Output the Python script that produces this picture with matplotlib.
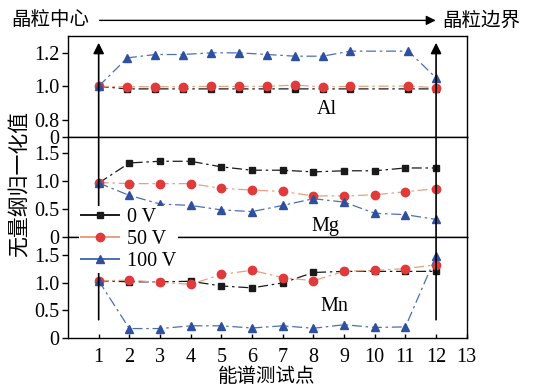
import matplotlib
matplotlib.use('Agg')
import matplotlib.pyplot as plt
from matplotlib.patches import ConnectionPatch, FancyArrowPatch

plt.rcParams['font.family'] = ['Liberation Serif', 'Noto Sans CJK SC']

# ==========================================
# data
# ==========================================
labels = ['0 V', '50 V', '100 V']

# Al panel: points are not on integer positions in the original
x_al = [1, 1.93, 2.85, 3.75, 4.66, 5.57, 6.5, 7.4, 8.3, 9.2, 11.1, 12]
al_0 = [1.0, 0.985, 0.985, 0.985, 0.985, 0.985, 0.985, 0.985, 0.985, 0.985, 0.985, 0.985]
al_50 = [1.0, 0.998, 0.998, 0.998, 1.0, 1.0, 1.0, 1.008, 0.997, 1.0, 1.002, 0.992]
al_100 = [1.0, 1.17, 1.19, 1.19, 1.20, 1.20, 1.19, 1.18, 1.18, 1.21, 1.21, 1.05]

x_pts = [1, 2, 3, 4, 5, 6, 7, 8, 9, 10, 11, 12]
mg_0 = [0.97, 1.33, 1.36, 1.36, 1.26, 1.20, 1.20, 1.17, 1.19, 1.19, 1.24, 1.24]
mg_50 = [0.98, 0.96, 0.96, 0.96, 0.875, 0.845, 0.82, 0.74, 0.74, 0.76, 0.815, 0.87]
mg_100 = [0.97, 0.75, 0.595, 0.57, 0.49, 0.46, 0.57, 0.69, 0.63, 0.43, 0.405, 0.32]

mn_0 = [1.04, 1.02, 1.02, 1.03, 0.945, 0.91, 1.0, 1.19, 1.21, 1.21, 1.21, 1.21]
mn_50 = [1.04, 1.05, 1.01, 0.975, 1.155, 1.23, 1.095, 1.04, 1.21, 1.23, 1.26, 1.33]
mn_100 = [1.04, 0.17, 0.17, 0.22, 0.22, 0.18, 0.22, 0.175, 0.24, 0.19, 0.20, 1.49]

xticks = list(range(1, 14))

styles = [
    dict(color='#1a1a1a', marker='s', markersize=5, mfc='#1a1a1a', mec='#1a1a1a'),
    dict(color='#e8a080', marker='o', markersize=6, mfc='#e03a3a', mec='#e03a3a'),
    dict(color='#4a6fb5', marker='^', markersize=6, mfc='#2f4f9f', mec='#2f4f9f'),
]
dash = (0, (8, 3, 2, 3))

fig = plt.figure(figsize=(5.44, 3.92), dpi=100)
gs = fig.add_gridspec(3, 1, left=0.125, right=0.858, top=0.908, bottom=0.138, hspace=0)
ax_al = fig.add_subplot(gs[0])
ax_mg = fig.add_subplot(gs[1], sharex=ax_al)
ax_mn = fig.add_subplot(gs[2], sharex=ax_al)

panels = [
    (ax_al, x_al, [al_0, al_50, al_100], 'Al'),
    (ax_mg, x_pts, [mg_0, mg_50, mg_100], 'Mg'),
    (ax_mn, x_pts, [mn_0, mn_50, mn_100], 'Mn'),
]

handles = []
for ax, xs, series, name in panels:
    for ys, st, lab in zip(series, styles, labels):
        ln, = ax.plot(xs, ys, linestyle=dash, linewidth=0.9, label=lab, **st)
        if ax is ax_mg:
            handles.append(ln)
    for sp in ax.spines.values():
        sp.set_linewidth(1.0)
    ax.tick_params(axis='y', direction='out', length=4, width=1, labelsize=14.5, pad=2)
    ax.tick_params(axis='x', direction='in', length=3, width=1, labelsize=14.5, pad=7)

ax_al.set_ylim(0.7, 1.3)
ax_al.set_yticks([0.7, 0.8, 1.0, 1.2])
ax_al.set_yticklabels(['0', '0.8', '1.0', '1.2'])
ax_mg.set_ylim(0, 1.8)
ax_mn.set_ylim(0, 1.83)
for ax in (ax_mg, ax_mn):
    ax.set_yticks([0, 0.5, 1.0, 1.5])
    ax.set_yticklabels(['0', '0.5', '1.0', '1.5'])

ax_mn.set_xlim(0, 13)
ax_mn.set_xticks(xticks)
for ax in (ax_al, ax_mg):
    ax.tick_params(axis='x', bottom=False, labelbottom=False)

ax_al.text(8.45, 0.86, 'Al', fontsize=14.5, ha='center', va='center')
ax_mg.text(8.4, 0.2, 'Mg', fontsize=14.5, ha='center', va='center')
ax_mn.text(8.7, 0.58, 'Mn', fontsize=14.5, ha='center', va='center')

fig.text(0.49, 0.04, '能谱测试点', fontsize=14, ha='center', va='center')
fig.text(0.038, 0.53, '无量纲归一化值', rotation=90, fontsize=15, ha='center', va='center')

# vertical arrows at first and last test points
for xv in (1, 12):
    con = ConnectionPatch(xyA=(xv, 0.33), coordsA='data', axesA=ax_mn,
                          xyB=(xv, 1.26), coordsB='data', axesB=ax_al,
                          arrowstyle='-|>', mutation_scale=16, lw=1.2, color='black')
    fig.add_artist(con)

# top direction arrow
fig.text(0.092, 0.948, '晶粒中心', fontsize=14, ha='center', va='center')
fig.text(0.885, 0.948, '晶粒边界', fontsize=14, ha='center', va='center')
fig.add_artist(FancyArrowPatch(
    (0.178, 0.948), (0.806, 0.948), transform=fig.transFigure,
    arrowstyle='-|>', mutation_scale=14, lw=1.0, color='black'))

leg = fig.legend(handles=handles, loc='upper left', bbox_to_anchor=(0.145, 0.475),
                 frameon=True, framealpha=1, facecolor='white', edgecolor='none',
                 fontsize=14.5, handlelength=1.9, handletextpad=0.4,
                 labelspacing=0.15, borderpad=0.1, borderaxespad=0)
for h in leg.get_lines():
    h.set_linestyle('-')
    h.set_linewidth(1.4)

fig.savefig('out.png', dpi=100)
